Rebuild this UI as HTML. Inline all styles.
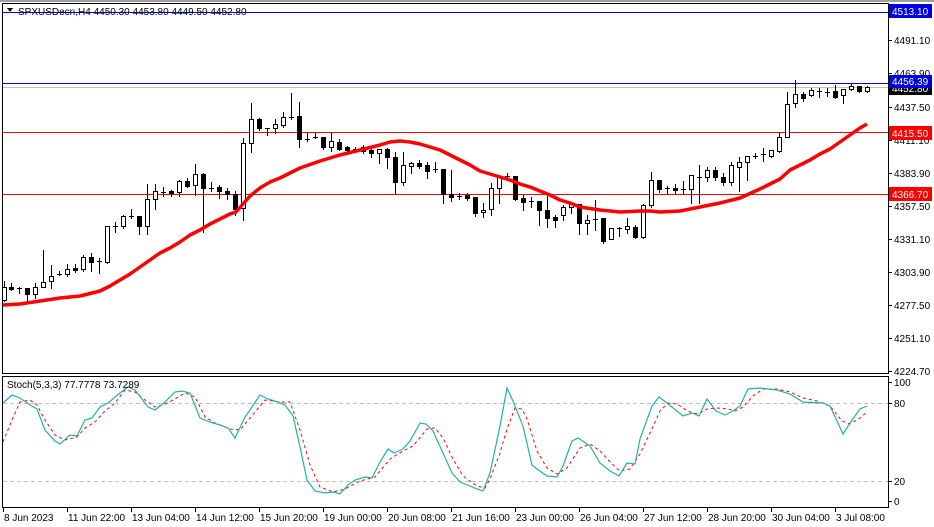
<!DOCTYPE html>
<html><head><meta charset="utf-8">
<style>
html,body{margin:0;padding:0;background:#fff;width:934px;height:527px;overflow:hidden}
svg{display:block;font-family:"Liberation Sans",sans-serif}
</style></head>
<body>
<svg id="c" width="934" height="527" viewBox="0 0 934 527" xmlns="http://www.w3.org/2000/svg" shape-rendering="crispEdges">
<rect x="0" y="0" width="934" height="527" fill="#fff"/>
<line x1="0" y1="1" x2="934" y2="1" stroke="#a0a0a0" stroke-width="2"/>
<!-- main panel frame -->
<rect x="2.5" y="3.5" width="886" height="370" fill="none" stroke="#000"/>
<rect x="2.5" y="376.5" width="886" height="131" fill="none" stroke="#000"/>
<!-- horizontal lines -->
<line x1="3" y1="12.5" x2="888" y2="12.5" stroke="#0000e0"/>
<line x1="3" y1="83.5" x2="888" y2="83.5" stroke="#0000e0"/>
<line x1="3" y1="87.5" x2="888" y2="87.5" stroke="#c0c0c0"/>
<line x1="3" y1="132.5" x2="888" y2="132.5" stroke="#ff0000"/>
<line x1="3" y1="194.5" x2="888" y2="194.5" stroke="#ff0000"/>
<!-- stoch levels -->
<line x1="3" y1="403.5" x2="888" y2="403.5" stroke="#c0c0c0" stroke-dasharray="4,3"/>
<line x1="3" y1="481.5" x2="888" y2="481.5" stroke="#c0c0c0" stroke-dasharray="4,3"/>
<g id="cand"></g>
<polyline fill="none" stroke="#ff0000" stroke-width="3.5" shape-rendering="auto" stroke-linejoin="round"
points="3,305 20,304 40,301 60,298 80,296 100,291 110,286 120,280 130,274 140,267 150,260 160,253 170,248 180,242 190,235 200,230 210,224 220,219 230,214 236,212 243,204 250,196 260,188 270,182 280,178 290,173 300,168 320,161 340,155 360,150 380,145 390,142 400,141 410,142 420,144 430,147 440,150 450,155 460,160 470,165 480,171 490,174 500,177 510,180 520,184 530,187 540,191 550,195 560,200 570,203 580,207 600,210 620,212 640,211 650,211 660,212 680,211 700,207 720,203 740,198 760,189 770,184 780,179 790,170 800,165 810,160 820,154 830,149 840,142 850,135 860,128 867,124"/>
<!-- stoch signal -->
<polyline fill="none" stroke="#ff0000" stroke-width="1" stroke-dasharray="3,3" shape-rendering="auto"
points="3,442 12,420 20,402 30,400 37,405 45,420 55,435 65,440 77,437 85,428 95,422 105,411 115,403 125,390 135,392 145,400 155,407 165,404 175,399 185,393 195,397 205,417 215,423 230,429 240,430 255,412 265,400 280,402 290,402 300,430 310,465 320,487 333,492 345,489 360,481 375,477 390,459 403,451 413,446 427,429 435,428 443,438 453,459 463,476 477,486 485,488 490,479 500,453 507,429 515,408 522,409 527,419 537,451 547,468 557,474 567,468 580,448 590,444 600,451 612,464 620,471 630,469 640,454 650,433 660,411 668,403 677,404 683,408 690,412 698,414 707,409 717,408 728,409 735,411 743,407 753,396 763,389 777,389 790,392 803,398 817,401 830,406 842,421 850,424 860,418 867,412"/>
<!-- stoch main -->
<polyline fill="none" stroke="#20b2aa" stroke-width="1.2" shape-rendering="auto"
points="3,403 12,395 20,398 30,405 37,409 45,430 55,441 60,444 70,435 77,436 85,420 92,418 100,407 108,403 120,393 128,387 135,390 148,407 155,410 165,402 175,392 182,391 190,393 200,418 210,422 220,425 228,428 235,438 245,417 252,407 260,395 268,399 278,402 285,405 293,416 300,447 307,480 315,491 325,493 333,492 340,494 348,485 355,480 365,477 372,478 380,462 388,449 394,453 403,449 410,441 420,423 426,424 433,431 443,453 452,473 460,482 470,486 477,489 483,491 490,473 500,426 507,388 513,401 523,426 532,465 537,469 547,476 557,477 563,466 572,441 578,438 590,446 600,463 610,471 619,476 627,463 635,464 640,439 652,406 659,397 667,403 683,416 692,413 699,416 707,399 716,411 725,415 733,411 740,406 748,389 760,388 777,390 790,394 803,402 823,403 830,406 843,434 850,423 860,409 867,406"/>
<text x="18" y="15" font-size="10" fill="#000">SPXUSDecn,H4  4450.30 4453.80 4449.50 4452.80</text>
<path d="M7,8 L13,8 L10,12 Z" fill="#000"/>
<text x="7" y="388" font-size="10" fill="#000">Stoch(5,3,3) 77.7778 73.7289</text>
<g id="ax" font-size="10" fill="#000"></g>
<!-- colored price labels -->
<rect x="889" y="4" width="43" height="14" fill="#0000e0"/>
<text x="892" y="15" font-size="10" fill="#fff">4513.10</text>
<rect x="889" y="81" width="43" height="14" fill="#000"/>
<text x="892" y="92" font-size="10" fill="#fff">4452.80</text>
<rect x="889" y="75" width="43" height="13" fill="#0000e0"/>
<text x="892" y="85" font-size="10" fill="#fff">4456.39</text>
<rect x="889" y="126" width="43" height="14" fill="#ff0000"/>
<text x="892" y="137" font-size="10" fill="#fff">4415.50</text>
<rect x="889" y="187" width="43" height="14" fill="#ff0000"/>
<text x="892" y="198" font-size="10" fill="#fff">4366.70</text>
</svg>
<script>
var ns="http://www.w3.org/2000/svg";
function el(p,n,a,t){var e=document.createElementNS(ns,n);for(var k in a)e.setAttribute(k,a[k]);if(t)e.textContent=t;p.appendChild(e);return e;}
var d=[[4,281,301,287,300,1],[11,283,290,287,289,0],[19,287,293,288,288,2],[27,288,302,288,294,0],[35,283,298,287,294,1],[43,250,287,282,287,1],[51,265,288,276,281,1],[59,271,275,274,274,2],[67,264,276,269,274,1],[75,264,272,268,270,0],[83,255,271,257,269,1],[91,253,271,257,262,0],[99,258,273,261,261,2],[107,226,263,226,262,1],[115,222,232,226,226,2],[123,215,228,216,226,1],[131,209,218,216,216,2],[139,216,234,216,226,0],[147,184,234,199,226,1],[155,184,209,191,199,1],[163,187,196,192,192,2],[171,190,196,191,193,0],[179,180,196,181,192,1],[187,178,187,181,186,0],[195,164,195,174,185,1],[203,173,232,174,188,0],[211,182,191,188,188,2],[219,185,198,187,191,0],[227,188,199,191,194,0],[235,191,215,194,209,0],[243,138,220,143,208,1],[251,103,152,119,143,1],[259,118,130,119,128,0],[267,128,135,128,128,2],[275,119,133,124,128,1],[283,112,127,117,125,1],[291,93,119,117,117,2],[299,102,147,116,139,0],[307,132,141,139,139,2],[315,132,138,137,137,2],[323,137,149,137,147,0],[331,133,151,141,147,1],[339,139,150,142,149,0],[347,146,154,147,150,0],[355,147,152,149,149,2],[363,145,153,147,151,0],[371,148,157,150,153,0],[379,149,163,149,153,1],[387,148,168,149,157,0],[395,152,194,157,182,0],[403,152,185,165,182,1],[411,162,173,163,166,1],[419,160,168,163,166,0],[427,162,178,165,171,0],[435,162,172,169,169,2],[443,169,203,169,194,0],[451,170,201,194,197,0],[459,193,199,196,196,2],[467,193,200,195,198,0],[475,197,216,197,213,0],[483,203,217,210,212,1],[491,183,215,188,209,1],[499,175,203,177,188,1],[507,173,178,176,176,2],[515,176,200,176,199,0],[523,195,210,198,202,0],[531,197,207,201,201,2],[539,201,225,201,210,0],[547,195,227,210,218,0],[555,215,227,217,220,0],[563,205,220,207,215,1],[571,202,213,204,207,1],[579,204,234,204,223,0],[587,215,234,220,223,1],[595,200,230,219,219,2],[603,218,243,218,241,0],[611,228,239,228,239,1],[619,227,236,228,228,2],[627,218,233,226,229,1],[635,225,238,227,237,0],[643,204,238,205,237,1],[651,172,207,180,205,1],[659,180,192,180,189,0],[667,186,194,188,188,2],[675,184,194,188,190,0],[683,181,194,189,189,2],[691,175,203,175,189,1],[699,165,203,177,177,2],[707,167,181,170,177,1],[715,167,180,170,177,0],[723,173,185,177,182,0],[731,162,185,165,182,1],[739,157,191,162,167,1],[747,156,180,156,162,1],[755,153,158,156,156,2],[763,148,161,154,154,2],[771,150,157,150,156,1],[779,132,152,137,151,1],[787,92,137,104,137,1],[795,80,107,94,103,1],[803,92,101,94,98,0],[811,88,96,90,95,1],[819,88,97,91,91,2],[827,88,96,92,92,2],[835,85,98,91,97,0],[843,89,103,89,95,1],[851,84,90,86,89,1],[859,86,92,86,91,0],[867,86,92,87,91,1]];
var g=document.getElementById("cand");
d.forEach(function(c){
 var x=c[0];
 el(g,"line",{x1:x+.5,x2:x+.5,y1:c[1],y2:c[2]+1,stroke:"#000"});
 if(c[5]==2){el(g,"line",{x1:x-2,x2:x+3,y1:c[3]+.5,y2:c[3]+.5,stroke:"#000"});}
 else{var h=Math.max(1,c[4]-c[3]);el(g,"rect",{x:x-1.5,y:c[3]+.5,width:4,height:h,fill:c[5]?"#fff":"#000",stroke:"#000"});}
});
var ax=document.getElementById("ax");
var pr=["4491.10","4463.90","4437.50","4411.10","4383.90","4357.50","4331.10","4303.90","4277.50","4251.10","4224.70"];
var py=[40,73,107,140,173,206,239,272,305,338,371];
pr.forEach(function(p,i){el(ax,"line",{x1:889,x2:892,y1:py[i]+.5,y2:py[i]+.5,stroke:"#000"});el(ax,"text",{x:894,y:py[i]+4},p);});
[["100",382],["80",403],["20",481],["0",501]].forEach(function(s){el(ax,"line",{x1:889,x2:892,y1:s[1]+.5,y2:s[1]+.5,stroke:"#000"});el(ax,"text",{x:894,y:s[1]+4},s[0]);});
var tl=["8 Jun 2023","11 Jun 22:00","13 Jun 04:00","14 Jun 12:00","15 Jun 20:00","19 Jun 00:00","20 Jun 08:00","21 Jun 16:00","23 Jun 00:00","26 Jun 04:00","27 Jun 12:00","28 Jun 20:00","30 Jun 04:00","3 Jul 08:00"];
tl.forEach(function(t,i){var x=3+i*64;el(ax,"line",{x1:x+.5,x2:x+.5,y1:508,y2:512,stroke:"#000"});el(ax,"text",{x:x+1,y:521},t);});
</script>
</body></html>
